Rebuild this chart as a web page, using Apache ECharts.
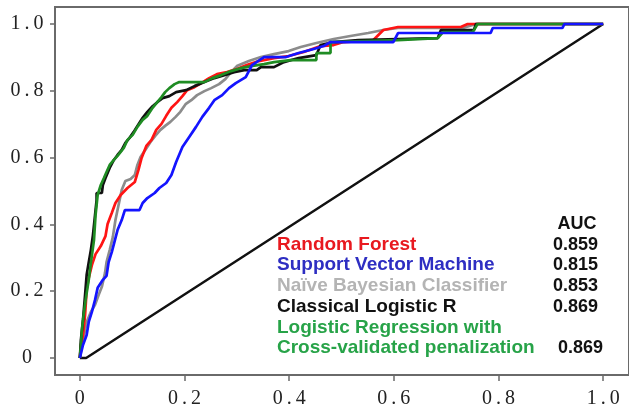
<!DOCTYPE html>
<html>
<head>
<meta charset="utf-8">
<script src="https://cdn.jsdelivr.net/npm/echarts@6/dist/echarts.min.js"></script>
<style>
  html, body { margin: 0; padding: 0; background: #fff; }
  #chart-wrap { width: 629px; height: 410px; }
</style>
</head>
<body>
<div id="chart-wrap"></div>
<script>
// ROC points [false positive rate, true positive rate]
var rfCurve = [[0,0],[.002,.039],[.006,.069],[.010,.129],[.013,.204],[.017,.240],[.023,.278],[.030,.311],[.040,.335],[.049,.365],[.053,.401],[.061,.434],[.068,.464],[.078,.488],[.091,.509],[.105,.527],[.112,.563],[.118,.599],[.127,.635],[.137,.653],[.146,.683],[.156,.701],[.165,.725],[.175,.749],[.186,.766],[.196,.784],[.205,.802],[.219,.811],[.232,.823],[.247,.838],[.262,.850],[.281,.856],[.300,.865],[.319,.877],[.342,.889],[.371,.898],[.399,.904],[.428,.916],[.460,.934],[.485,.937],[.504,.946],[.561,.952],[.580,.982],[.608,.991],[.728,.991],[.741,1],[1,1]];
var svmCurve = [[0,0],[.006,.039],[.013,.069],[.017,.108],[.023,.138],[.029,.174],[.034,.210],[.044,.234],[.051,.246],[.055,.287],[.061,.317],[.067,.353],[.072,.383],[.080,.413],[.086,.443],[.114,.443],[.120,.464],[.129,.479],[.143,.494],[.152,.509],[.165,.524],[.175,.548],[.184,.587],[.196,.632],[.209,.662],[.222,.692],[.234,.722],[.247,.749],[.257,.772],[.272,.787],[.285,.808],[.298,.823],[.317,.841],[.329,.877],[.352,.901],[.394,.901],[.418,.913],[.447,.925],[.466,.934],[.479,.946],[.599,.946],[.608,.973],[.785,.973],[.789,.988],[.922,.988],[.926,1],[1,1]];
var nbCurve = [[0,0],[.004,.039],[.008,.069],[.013,.108],[.021,.138],[.029,.159],[.036,.189],[.042,.213],[.048,.254],[.051,.287],[.057,.323],[.063,.362],[.068,.413],[.074,.458],[.080,.503],[.087,.530],[.097,.536],[.105,.548],[.110,.578],[.116,.602],[.125,.623],[.135,.647],[.144,.665],[.154,.683],[.163,.695],[.173,.707],[.183,.722],[.192,.737],[.202,.760],[.213,.772],[.224,.787],[.238,.799],[.251,.808],[.266,.820],[.278,.835],[.289,.856],[.300,.874],[.323,.889],[.346,.901],[.371,.910],[.399,.919],[.422,.931],[.452,.943],[.485,.955],[.517,.964],[.551,.973],[.580,.982],[.608,.988],[.732,.988],[.757,1],[1,1]];
var clrCurve = [[0,0],[.002,.054],[.006,.114],[.010,.189],[.013,.249],[.017,.287],[.021,.323],[.025,.368],[.029,.428],[.032,.473],[.032,.494],[.042,.494],[.044,.518],[.049,.539],[.057,.569],[.065,.593],[.072,.608],[.080,.623],[.087,.644],[.095,.659],[.103,.677],[.110,.695],[.120,.719],[.129,.737],[.139,.754],[.148,.766],[.158,.778],[.171,.784],[.184,.796],[.203,.802],[.219,.814],[.238,.826],[.257,.838],[.276,.847],[.295,.856],[.314,.862],[.338,.862],[.346,.871],[.371,.871],[.390,.886],[.418,.898],[.452,.907],[.460,.937],[.485,.946],[.532,.952],[.684,.958],[.690,.982],[.753,.982],[.757,1],[1,1]];
var lrcvCurve = [[0,0],[.002,.039],[.004,.084],[.006,.114],[.011,.174],[.017,.234],[.021,.284],[.027,.353],[.030,.428],[.034,.488],[.040,.518],[.046,.539],[.051,.557],[.057,.578],[.065,.593],[.072,.605],[.078,.617],[.084,.629],[.091,.653],[.101,.668],[.110,.692],[.120,.713],[.129,.725],[.139,.749],[.148,.766],[.156,.781],[.163,.796],[.171,.808],[.181,.820],[.190,.826],[.238,.826],[.253,.838],[.270,.847],[.289,.859],[.308,.868],[.327,.874],[.352,.880],[.371,.886],[.403,.892],[.452,.892],[.452,.913],[.479,.913],[.479,.946],[.608,.952],[.684,.958],[.694,.976],[.751,.976],[.760,1],[1,1]];
var chanceLine = [[0,0],[.012,0],[1,1]];

var modelNames = ['Random Forest', 'Support Vector Machine', 'Naïve Bayesian Classifier', 'Classical Logistic R', 'Logistic Regression with', 'Cross-validated penalization'];
var aucValues = ['0.859', '0.815', '0.853', '0.869', '', '0.869'];
var tickValues = [0, 0.2, 0.4, 0.6, 0.8, 1.0];

var lineColors = ['#ff1414', '#1414ff', '#8c8c8c', '#111111', '#1f8c23'];
var textColors = ['#e8191f', '#2e2ec2', '#b4b4b4', '#111111', '#27a348', '#27a348'];

function fmtTick(v) {
  if (v === 0) return '0';
  var s = v.toFixed(1).split('.');
  return '{n|' + s[0] + '}{p|.}{n|' + s[1] + '}';
}

var tickRich = {
  n: { fontFamily: 'Liberation Serif', fontSize: 20, color: '#222', width: 11, align: 'center' },
  p: { fontFamily: 'Liberation Serif', fontSize: 20, color: '#222', width: 12, align: 'center' }
};

function mkLine(name, data, color, width) {
  return {
    name: name,
    type: 'line',
    data: data,
    symbol: 'none',
    animation: false,
    lineStyle: { color: color, width: width },
    z: 3
  };
}

var graphics = [{
  type: 'text', x: 577, y: 224,
  style: { text: 'AUC', fill: '#111', font: 'bold 18px "Liberation Sans"', align: 'center', verticalAlign: 'middle' }
}];
var rowY = [245, 265, 286, 307, 328, 348];
for (var i = 0; i < modelNames.length; i++) {
  graphics.push({
    type: 'text', x: 277, y: rowY[i],
    style: { text: modelNames[i], fill: textColors[i], font: 'bold 19px "Liberation Sans"', align: 'left', verticalAlign: 'middle' }
  });
  if (aucValues[i]) {
    graphics.push({
      type: 'text', x: i === 5 ? 603 : 598, y: rowY[i],
      style: { text: aucValues[i], fill: '#111', font: 'bold 18px "Liberation Sans"', align: 'right', verticalAlign: 'middle' }
    });
  }
}

var myChart = echarts.init(document.getElementById('chart-wrap'));
var option = {
  animation: false,
  grid: {
    left: 55, top: 7, right: -3, bottom: 35,
    show: true, borderColor: '#6a6a6a', borderWidth: 2, backgroundColor: '#fff'
  },
  xAxis: {
    type: 'value',
    min: -0.0475, max: 1.0494,
    axisLine: { show: false, onZero: false },
    splitLine: { show: false },
    axisTick: { show: true, customValues: tickValues, length: 6, lineStyle: { color: '#6a6a6a', width: 1.5 } },
    axisLabel: { customValues: tickValues, formatter: fmtTick, margin: 14, fontFamily: 'Liberation Serif', fontSize: 20, color: '#222', rich: tickRich }
  },
  yAxis: {
    type: 'value',
    min: -0.0509, max: 1.0509,
    axisLine: { show: false, onZero: false },
    splitLine: { show: false },
    axisTick: { show: true, customValues: tickValues, length: 5, lineStyle: { color: '#6a6a6a', width: 1.5 } },
    axisLabel: { customValues: tickValues, formatter: fmtTick, margin: 28, align: 'center', fontFamily: 'Liberation Serif', fontSize: 20, color: '#222', rich: tickRich }
  },
  series: [
    mkLine('chance', chanceLine, '#111', 2.5),
    mkLine(modelNames[2], nbCurve, lineColors[2], 2.7),
    mkLine(modelNames[0], rfCurve, lineColors[0], 2.7),
    mkLine(modelNames[3], clrCurve, lineColors[3], 2.7),
    mkLine(modelNames[4], lrcvCurve, lineColors[4], 2.7),
    mkLine(modelNames[1], svmCurve, lineColors[1], 2.7)
  ],
  graphic: graphics
};
myChart.setOption(option);
</script>
</body>
</html>
